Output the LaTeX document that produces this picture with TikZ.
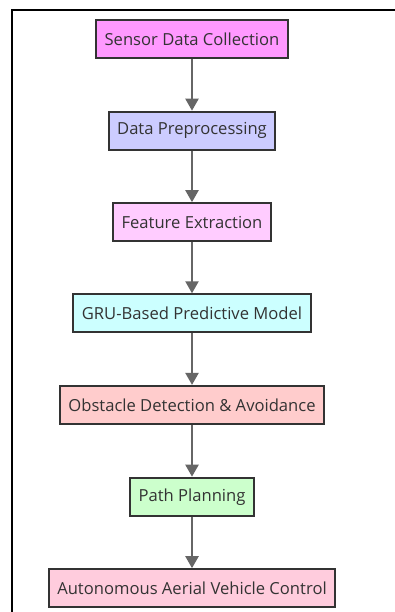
\documentclass[tikz,border=0pt]{standalone}
\usepackage{fontspec}
\setmainfont{Open Sans}
\usetikzlibrary{arrows.meta}

\definecolor{cSensor}{HTML}{FF99FF}
\definecolor{cPrep}{HTML}{CCCCFF}
\definecolor{cFeat}{HTML}{FFCCFF}
\definecolor{cGru}{HTML}{CCFFFF}
\definecolor{cObst}{HTML}{FFCCCC}
\definecolor{cPath}{HTML}{CCFFCC}
\definecolor{cCtrl}{HTML}{FFCCDD}
\definecolor{cEdge}{HTML}{333333}
\definecolor{cArrow}{HTML}{666666}

\tikzset{
  stage/.style={draw=cEdge, line width=2pt, rectangle, minimum height=38pt,
    inner xsep=8.5pt, inner ysep=0pt, text=cEdge,
    font=\fontsize{16.6}{19}\selectfont},
  flow/.style={draw=cArrow, line width=2.2pt,
    -{Triangle[width=13pt,length=12pt]}},
}

\begin{document}
\begin{tikzpicture}[x=1pt,y=-1pt]
  \useasboundingbox (0,0) rectangle (395,612);
  \clip (0,0) rectangle (395,612);
  \fill[white] (0,0) rectangle (395,612);
  % outer frame, running off the right and bottom edges
  \draw[black, line width=2pt] (12,10) rectangle (440,660);

  \node[stage, fill=cSensor] (sensor) at (192,39)    {Sensor Data Collection};
  \node[stage, fill=cPrep]   (prep)   at (192,130.7) {Data Preprocessing};
  \node[stage, fill=cFeat]   (feat)   at (192,222.2) {Feature Extraction};
  \node[stage, fill=cGru]    (gru)    at (192,313.3) {GRU-Based Predictive Model};
  \node[stage, fill=cObst]   (obst)   at (192,404.9) {Obstacle Detection \& Avoidance};
  \node[stage, fill=cPath]   (path)   at (192,496.7) {Path Planning};
  \node[stage, fill=cCtrl]   (ctrl)   at (192,588.2) {Autonomous Aerial Vehicle Control};

  \draw[flow] (sensor) -- (prep);
  \draw[flow] (prep) -- (feat);
  \draw[flow] (feat) -- (gru);
  \draw[flow] (gru) -- (obst);
  \draw[flow] (obst) -- (path);
  \draw[flow] (path) -- (ctrl);
\end{tikzpicture}
\end{document}
